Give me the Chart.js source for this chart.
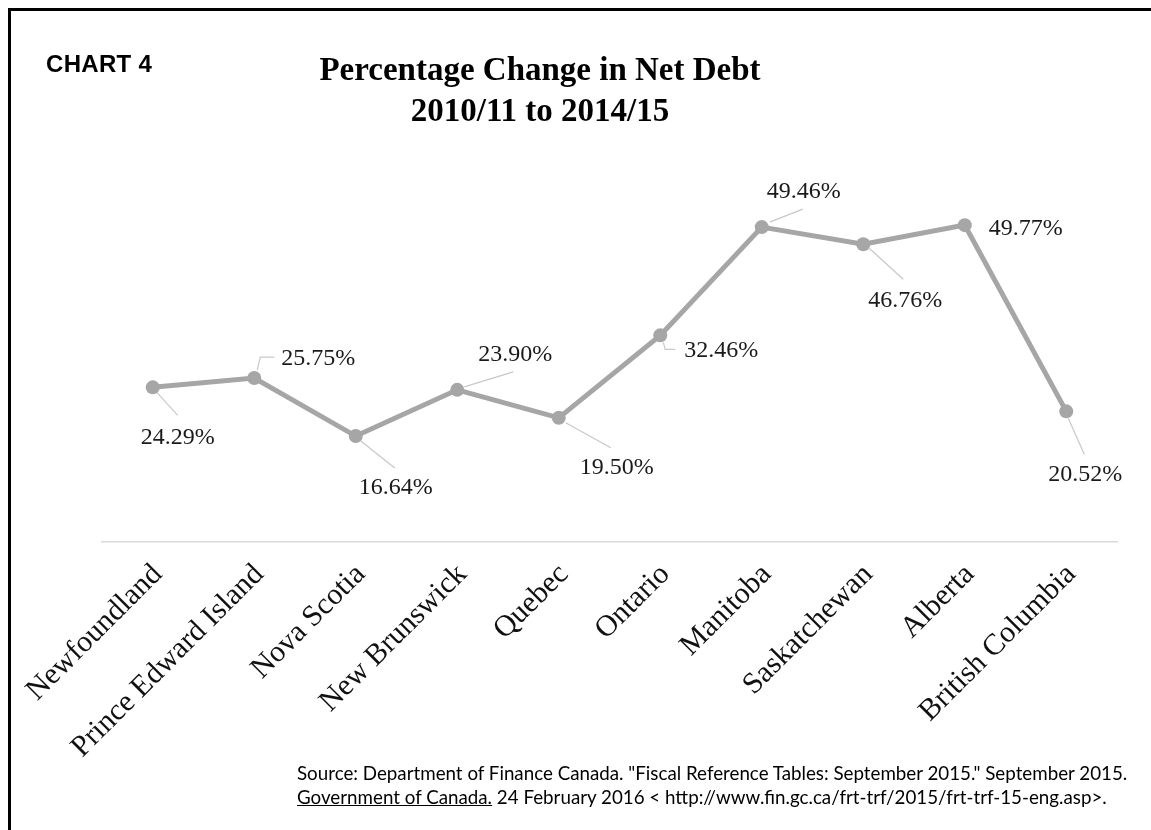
<!DOCTYPE html>
<html>
<head>
<meta charset="utf-8">
<script src="https://cdn.jsdelivr.net/npm/chart.js@4.4.0/dist/chart.umd.min.js"></script>
<style>
html,body{margin:0;padding:0;background:#fff;width:1151px;height:830px;overflow:hidden;}
#wrap{position:relative;width:1151px;height:830px;}
#frame{position:absolute;left:8px;top:8px;width:1160px;height:840px;border-top:3px solid #000;border-left:3px solid #000;box-sizing:border-box;}
#c{position:absolute;left:0;top:0;}
#chartno{position:absolute;left:46px;top:50px;font:bold 24px "Liberation Sans";letter-spacing:0.3px;color:#000;white-space:nowrap;}
#title{position:absolute;left:240px;width:600px;top:49px;text-align:center;font:bold 33px/41px "Liberation Serif";color:#000;}
#source{position:absolute;left:297px;top:761px;font-family:Lato,"Open Sans",sans-serif;font-size:15px;line-height:24px;color:#000;white-space:nowrap;}
#source u{text-decoration:underline;}
</style>
</head>
<body>
<div id="wrap">
  <div id="frame"></div>
  <canvas id="c" width="1151" height="830"></canvas>
  <div id="chartno">CHART 4</div>
  <div id="title">Percentage Change in Net Debt<br>2010/11 to 2014/15</div>
  <div id="source"><span id="src1">Source: Department of Finance Canada. "Fiscal Reference Tables: September 2015." September 2015.</span><br><span id="src2"><u>Government of Canada.</u> 24 February 2016 &lt; http://www.fin.gc.ca/frt-trf/2015/frt-trf-15-eng.asp&gt;.</span></div>
</div>
<script>
// ---- data ----
const categories = ['Newfoundland','Prince Edward Island','Nova Scotia','New Brunswick','Quebec','Ontario','Manitoba','Saskatchewan','Alberta','British Columbia'];
const netDebtChange = [24.29, 25.75, 16.64, 23.90, 19.50, 32.46, 49.46, 46.76, 49.77, 20.52];
const yRange = [0, 60];

// ---- label placement (style: offsets from each point, in px) ----
const labelPlacement = [
  {dx:25, dy:50, leader:[[4,5],[25,28]]},
  {dx:64, dy:-19, leader:[[3,-8],[6,-21],[20,-21]]},
  {dx:40, dy:52, leader:[[5,5],[39,32]]},
  {dx:58, dy:-35, leader:[[7,-3],[56,-18]]},
  {dx:58, dy:50, leader:[[7,5],[52,30]]},
  {dx:61, dy:15, leader:[[3,7],[5,14],[15,14]]},
  {dx:42, dy:-35, leader:[[8,-5],[41,-18]]},
  {dx:42, dy:56, leader:[[6,4],[40,35]]},
  {dx:61, dy:4, leader:null},
  {dx:19, dy:63, leader:[[2,7],[18,43]]}
];

// fit source text width
(function(){
  const cv = document.createElement('canvas').getContext('2d');
  cv.font = '15px Lato';
  const w = cv.measureText(document.getElementById('src1').textContent).width;
  const size = 15 * 832 / w;
  document.getElementById('source').style.fontSize = size.toFixed(2) + 'px';
})();

const labelPlugin = {
  id: 'valueLabels',
  beforeDatasetsDraw(chart) {
    const ctx = chart.ctx;
    const meta = chart.getDatasetMeta(0);
    ctx.save();
    ctx.strokeStyle = '#c8c8c8';
    ctx.lineWidth = 1.2;
    meta.data.forEach((pt, i) => {
      const lp = labelPlacement[i];
      if (!lp || !lp.leader) return;
      ctx.beginPath();
      lp.leader.forEach((o, k) => {
        const x = pt.x + o[0], y = pt.y + o[1];
        if (k === 0) ctx.moveTo(x, y); else ctx.lineTo(x, y);
      });
      ctx.stroke();
    });
    ctx.restore();
  },
  afterDatasetsDraw(chart) {
    const ctx = chart.ctx;
    const meta = chart.getDatasetMeta(0);
    const ds = chart.data.datasets[0].data;
    ctx.save();
    ctx.font = '24px "Liberation Serif"';
    ctx.fillStyle = '#1a1a1a';
    ctx.textAlign = 'center';
    ctx.textBaseline = 'middle';
    meta.data.forEach((pt, i) => {
      const lp = labelPlacement[i];
      ctx.fillText(ds[i].toFixed(2) + '%', pt.x + lp.dx, pt.y + lp.dy);
    });
    ctx.restore();
  }
};

new Chart(document.getElementById('c'), {
  type: 'line',
  data: {
    labels: categories,
    datasets: [{
      data: netDebtChange,
      borderColor: '#a6a6a6',
      backgroundColor: '#a6a6a6',
      borderWidth: 5,
      pointRadius: 7,
      pointBorderWidth: 0,
      pointBackgroundColor: '#a6a6a6',
      tension: 0,
      clip: false
    }]
  },
  options: {
    responsive: false,
    animation: false,
    devicePixelRatio: 1,
    layout: { padding: { left: 102, right: 34, top: 160, bottom: 0 } },
    plugins: { legend: { display: false }, tooltip: { enabled: false }, title: { display: false } },
    scales: {
      x: {
        offset: true,
        grid: { display: false, drawTicks: false },
        border: { display: true, color: '#d9d9d9', width: 1.5 },
        ticks: {
          autoSkip: false, maxRotation: 45, minRotation: 45,
          font: { family: 'Liberation Serif', size: 30 },
          color: '#111111', padding: 15, labelOffset: 5
        },
        afterFit(scale) { scale.height = 830 - 542; }
      },
      y: { display: false, min: yRange[0], max: yRange[1] }
    }
  },
  plugins: [labelPlugin]
});
</script>
</body>
</html>
